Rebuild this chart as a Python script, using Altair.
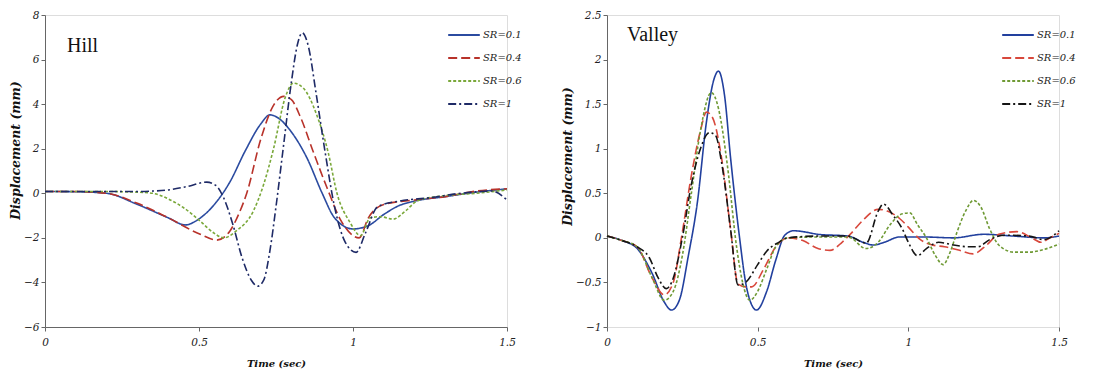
import altair as alt
import pandas as pd

SERIES = ["SR=0.1", "SR=0.4", "SR=0.6", "SR=1"]

# ---------------- Hill panel ----------------
hill_t_01 = [0, 0.1, 0.2, 0.3, 0.4, 0.455, 0.5, 0.55, 0.6, 0.65, 0.7, 0.73, 0.76, 0.8, 0.85, 0.9, 0.94, 1.0, 1.05, 1.1, 1.15, 1.2, 1.3, 1.4, 1.5]
hill_d_01 = [0.08, 0.07, 0.0, -0.5, -1.1, -1.42, -1.15, -0.5, 0.5, 1.9, 3.1, 3.52, 3.35, 2.75, 1.6, 0.0, -1.1, -1.6, -1.45, -0.95, -0.55, -0.35, -0.15, 0.05, 0.2]

hill_t_04 = [0, 0.1, 0.2, 0.3, 0.4, 0.504, 0.558, 0.6, 0.63, 0.655, 0.7, 0.74, 0.775, 0.8, 0.83, 0.87, 0.915, 0.96, 1.02, 1.05, 1.1, 1.2, 1.3, 1.4, 1.5]
hill_d_04 = [0.08, 0.08, 0.0, -0.45, -1.1, -1.84, -2.1, -1.7, -0.9, 0.0, 2.4, 3.9, 4.35, 4.2, 3.4, 1.9, 0.27, -1.2, -2.0, -1.1, -0.5, -0.3, -0.15, 0.1, 0.2]

hill_t_06 = [0, 0.1, 0.2, 0.3, 0.35, 0.4, 0.45, 0.5, 0.55, 0.58, 0.62, 0.677, 0.71, 0.742, 0.78, 0.807, 0.84, 0.88, 0.92, 0.948, 0.99, 1.024, 1.056, 1.09, 1.13, 1.17, 1.21, 1.3, 1.4, 1.5]
hill_d_06 = [0.08, 0.08, 0.08, 0.05, 0.0, -0.25, -0.65, -1.2, -1.8, -2.0, -1.7, -0.78, 0.4, 2.0, 4.3, 4.94, 4.7, 3.6, 1.8, 0.0, -1.3, -1.9, -1.1, -1.05, -1.16, -0.8, -0.33, -0.1, 0.0, 0.15]

hill_t_1 = [0, 0.1, 0.2, 0.3, 0.35, 0.4, 0.46, 0.525, 0.555, 0.58, 0.61, 0.64, 0.67, 0.69, 0.71, 0.73, 0.75, 0.775, 0.8, 0.82, 0.835, 0.855, 0.88, 0.91, 0.94, 0.975, 1.01, 1.04, 1.08, 1.15, 1.25, 1.35, 1.45, 1.5]
hill_d_1 = [0.08, 0.08, 0.08, 0.08, 0.1, 0.15, 0.3, 0.5, 0.35, -0.2, -1.4, -2.9, -3.9, -4.17, -3.9, -2.6, -0.6, 2.2, 5.0, 6.7, 7.2, 6.6, 4.5, 1.8, -0.6, -2.2, -2.65, -1.8, -0.6, -0.35, -0.2, 0.0, 0.1, -0.3]

# ---------------- Valley panel ----------------
val_t_01 = [0, 0.05, 0.1, 0.15, 0.19, 0.214, 0.24, 0.27, 0.3, 0.33, 0.355, 0.37, 0.39, 0.41, 0.44, 0.46, 0.48, 0.496, 0.53, 0.56, 0.59, 0.62, 0.65, 0.7, 0.8, 0.85, 0.884, 0.92, 0.97, 1.05, 1.15, 1.25, 1.35, 1.45, 1.5]
val_d_01 = [0.02, -0.03, -0.12, -0.4, -0.72, -0.81, -0.7, -0.2, 0.4, 1.3, 1.78, 1.87, 1.6, 0.9, 0.0, -0.5, -0.75, -0.81, -0.6, -0.25, 0.03, 0.08, 0.07, 0.04, 0.02, -0.05, -0.08, -0.05, 0.01, 0.01, 0.0, 0.04, 0.02, 0.0, 0.02]

val_t_04 = [0, 0.05, 0.1, 0.15, 0.19, 0.22, 0.247, 0.28, 0.31, 0.33, 0.35, 0.38, 0.41, 0.435, 0.46, 0.48, 0.52, 0.56, 0.6, 0.65, 0.7, 0.74, 0.78, 0.81, 0.85, 0.9, 0.93, 0.97, 1.0, 1.04, 1.08, 1.12, 1.17, 1.215, 1.26, 1.3, 1.36, 1.41, 1.44, 1.47, 1.5]
val_d_04 = [0.02, -0.03, -0.1, -0.45, -0.64, -0.5, 0.0, 0.7, 1.2, 1.41, 1.35, 0.9, 0.1, -0.52, -0.55, -0.55, -0.35, -0.1, 0.0, -0.03, -0.12, -0.14, -0.05, 0.05, 0.2, 0.32, 0.3, 0.22, 0.12, -0.02, -0.08, -0.1, -0.14, -0.18, -0.08, 0.04, 0.07, 0.0, -0.05, 0.0, 0.05]

val_t_06 = [0, 0.05, 0.1, 0.15, 0.19, 0.22, 0.25, 0.28, 0.31, 0.346, 0.37, 0.4, 0.43, 0.45, 0.474, 0.5, 0.53, 0.56, 0.6, 0.7, 0.8, 0.86, 0.9, 0.94, 0.98, 1.005, 1.03, 1.06, 1.09, 1.115, 1.14, 1.16, 1.19, 1.216, 1.24, 1.27, 1.3, 1.35, 1.4, 1.45, 1.5]
val_d_06 = [0.02, -0.03, -0.1, -0.45, -0.7, -0.6, -0.2, 0.5, 1.2, 1.63, 1.45, 0.8, -0.1, -0.5, -0.7, -0.6, -0.35, -0.1, 0.0, 0.01, 0.01, -0.12, -0.05, 0.15, 0.27, 0.28, 0.15, 0.0, -0.2, -0.3, -0.15, 0.05, 0.3, 0.42, 0.35, 0.1, -0.08, -0.16, -0.16, -0.13, -0.07]

val_t_1 = [0, 0.05, 0.1, 0.14, 0.17, 0.197, 0.22, 0.25, 0.28, 0.31, 0.34, 0.36, 0.38, 0.41, 0.435, 0.46, 0.5, 0.53, 0.57, 0.6, 0.7, 0.8, 0.86, 0.9, 0.917, 0.95, 0.98, 1.0, 1.03, 1.06, 1.1, 1.15, 1.2, 1.23, 1.27, 1.32, 1.4, 1.45, 1.5]
val_d_1 = [0.02, -0.03, -0.1, -0.22, -0.45, -0.57, -0.45, 0.0, 0.6, 1.0, 1.18, 1.15, 0.85, 0.1, -0.53, -0.5, -0.3, -0.15, -0.05, 0.0, 0.02, 0.02, -0.06, 0.3, 0.38, 0.25, 0.1, -0.05, -0.2, -0.12, -0.05, -0.08, -0.1, -0.1, -0.02, 0.03, 0.02, -0.02, 0.08]

hill_colors = ["#2b4ba0", "#b8322a", "#7aa83a", "#1e2a66"]
val_colors = ["#22409e", "#d8483c", "#6f9a35", "#151515"]
dashes = [[1, 0], [9, 4], [3, 2], [8, 3, 2, 3]]


def frame(pairs):
    rows = []
    for name, (ts, ds) in zip(SERIES, pairs):
        for i, (t, d) in enumerate(zip(ts, ds)):
            rows.append({"series": name, "t": t, "d": d, "order": i})
    return pd.DataFrame(rows)


hill_df = frame([(hill_t_01, hill_d_01), (hill_t_04, hill_d_04), (hill_t_06, hill_d_06), (hill_t_1, hill_d_1)])
val_df = frame([(val_t_01, val_d_01), (val_t_04, val_d_04), (val_t_06, val_d_06), (val_t_1, val_d_1)])

FONT = "DejaVu Serif"


def axis_common(**kw):
    base = dict(
        labelFont=FONT, labelFontStyle="italic", labelFontSize=10.5, labelColor="#222",
        titleFont=FONT, titleFontStyle="italic", titleFontWeight="bold",
        titleColor="#111", domainColor="#666", tickColor="#666", tickSize=4, grid=False,
        labelFlush=False,
    )
    base.update(kw)
    return alt.Axis(**base)


def panel(df, colors, ydomain, yvalues, label, lx, ly, legx, w, h, title_y, xdomain_line=True):
    lines = alt.Chart(df).mark_line(interpolate="monotone", strokeWidth=1.6).encode(
        x=alt.X("t:Q", scale=alt.Scale(domain=[0, 1.5], nice=False),
                axis=axis_common(values=[0, 0.5, 1, 1.5], format="~g", title="Time (sec)",
                                 titleFontSize=10, labelPadding=6, titlePadding=11, domain=xdomain_line)),
        y=alt.Y("d:Q", scale=alt.Scale(domain=ydomain, nice=False),
                axis=axis_common(values=yvalues, format="~g", title="Displacement (mm)",
                                 titleFontSize=12.5, labelPadding=2, titlePadding=1, titleY=title_y)),
        color=alt.Color("series:N", scale=alt.Scale(domain=SERIES, range=colors),
                        legend=alt.Legend(title=None, orient="none", legendX=legx, legendY=10,
                                          symbolType="stroke", symbolSize=1000, symbolStrokeWidth=2,
                                          clipHeight=20, rowPadding=3, labelOffset=2,
                                          labelFont=FONT, labelFontStyle="italic", labelFontSize=10,
                                          labelColor="#222", padding=0)),
        strokeDash=alt.StrokeDash("series:N", scale=alt.Scale(domain=SERIES, range=dashes), legend=None),
        order="order:Q",
    )
    txt = alt.Chart(pd.DataFrame({"label": [label]})).mark_text(
        font="Liberation Serif", fontSize=20, align="left", baseline="alphabetic", color="#111"
    ).encode(x=alt.value(lx), y=alt.value(ly), text="label:N")
    return alt.layer(lines, txt).properties(width=w, height=h)


left = panel(hill_df, hill_colors, [-6, 8], [-6, -4, -2, 0, 2, 4, 6, 8], "Hill", 22, 37, 402, 462, 312, 135)
right = panel(val_df, val_colors, [-1, 2.5], [-1, -0.5, 0, 0.5, 1, 1.5, 2, 2.5], "Valley", 20, 26, 394, 452, 312,
              141, xdomain_line=False)

chart = alt.hconcat(left, right, spacing=38).resolve_scale(
    color="independent", strokeDash="independent"
).resolve_legend(color="independent").properties(
    padding={"left": 1, "top": 1, "right": 5, "bottom": 0}
).configure_view(stroke=None).configure(background="white")

chart.save("out.html", embed_options={"renderer": "svg", "actions": False})
